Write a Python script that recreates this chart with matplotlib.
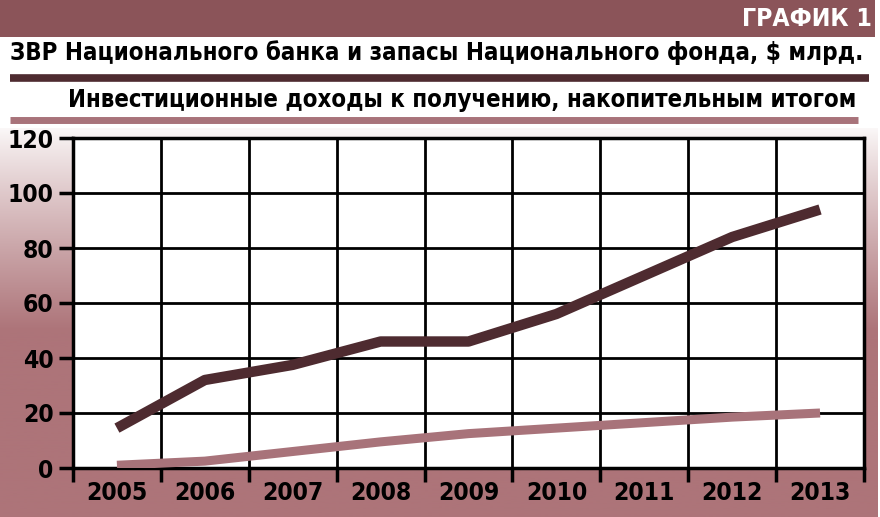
import matplotlib
matplotlib.use("Agg")
import matplotlib.pyplot as plt
import numpy as np
from matplotlib.patches import Rectangle
from matplotlib.lines import Line2D
from matplotlib import font_manager

years = ["2005", "2006", "2007", "2008", "2009", "2010", "2011", "2012", "2013"]
reserves = [14.5, 32, 37.5, 46, 46, 56, 70, 84, 94]
income = [1, 2.5, 6, 9.5, 12.5, 14.5, 16.5, 18.5, 20]
yticks = [0, 20, 40, 60, 80, 100, 120]

header = "ГРАФИК 1"
label1 = "ЗВР Национального банка и запасы Национального фонда, $ млрд."
label2 = "Инвестиционные доходы к получению, накопительным итогом"

dark = "#4e2b30"
light = "#a8737a"
band = "#8b5459"

# pick a condensed bold font if one is installed
cands = []
for fe in font_manager.fontManager.ttflist:
    nm = fe.name.lower()
    st = str(fe.stretch).lower()
    cond = ("condensed" in st) or ("narrow" in nm) or ("condensed" in nm) or ("condensed" in fe.fname.lower())
    bold = (fe.weight in ("bold", 700, "semibold", 600)) or (isinstance(fe.weight, int) and fe.weight >= 600)
    if cond and bold:
        pri = 0 if "dejavu" in nm else 1
        cands.append((pri, fe.fname))
cands.sort()
if cands:
    fp = font_manager.FontProperties(fname=cands[0][1])
else:
    fp = font_manager.FontProperties(family="DejaVu Sans", weight="bold")

W, H = 880, 517
fig = plt.figure(figsize=(W / 100, H / 100), dpi=100)
fig.patch.set_facecolor("white")

# gradient background panel
bg = fig.add_axes([0, 0, 877 / W, (H - 128) / H], zorder=0)
n = 400
t = np.linspace(0, 1, n)
f = np.clip(t / 0.52, 0, 1) ** 0.9
top_c = np.array([0xfb, 0xf8, 0xf8]) / 255
bot_c = np.array([0xad, 0x74, 0x79]) / 255
grad = top_c[None, :] * (1 - f[:, None]) + bot_c[None, :] * f[:, None]
bg.imshow(grad[:, None, :], aspect="auto", extent=[0, 1, 0, 1], origin="upper")
bg.set_axis_off()

# top band
fig.patches.append(Rectangle((0, (H - 37) / H), 875 / W, 37 / H, transform=fig.transFigure,
                             facecolor=band, edgecolor="none", zorder=1))

renderer = fig.canvas.get_renderer()


def fit_text(xp, yp, s, target_w, ha, color, size0=20, zorder=2):
    t = fig.text(xp / W, (H - yp) / H, s, color=color, fontproperties=fp, ha=ha, va="center",
                 zorder=zorder)
    t.set_fontsize(size0)
    w = t.get_window_extent(renderer).width
    t.set_fontsize(size0 * target_w / w)
    return t


fit_text(872, 19, header, 130, "right", "white")
fit_text(10, 53, label1, 852, "left", "black")
fig.lines.append(Line2D([10 / W, 869 / W], [(H - 78) / H] * 2, transform=fig.transFigure,
                        color=dark, linewidth=5.5, solid_capstyle="butt"))
fit_text(856, 100, label2, 790, "right", "black")
fig.lines.append(Line2D([10 / W, 858 / W], [(H - 120) / H] * 2, transform=fig.transFigure,
                        color=light, linewidth=5, solid_capstyle="butt"))

# tick label font size fitted to the reference label width
probe = fig.text(0, 0, "2005", fontproperties=fp)
probe.set_fontsize(20)
tsize = 20 * 62 / probe.get_window_extent(renderer).width
probe.remove()

# main axes
ax = fig.add_axes([73 / W, 49 / H, (864 - 73) / W, (468 - 138) / H], zorder=3)
ax.set_facecolor("white")
x = np.arange(len(years))
ax.plot(x, reserves, color=dark, linewidth=7.5, solid_capstyle="butt", zorder=4)
ax.plot(x, income, color=light, linewidth=6.5, solid_capstyle="butt", zorder=4)

ax.set_xlim(-0.5, len(years) - 0.5)
ax.set_ylim(0, 120)
ax.set_yticks(yticks)
ax.set_yticklabels([str(v) for v in yticks])
ax.set_xticks(x)
ax.set_xticklabels(years)
ax.set_xticks(np.arange(-0.5, len(years)), minor=True)
ax.grid(True, axis="y", which="major", color="black", linewidth=2)
ax.grid(True, axis="x", which="minor", color="black", linewidth=2)
ax.tick_params(axis="x", which="major", length=0, pad=9)
ax.tick_params(axis="x", which="minor", length=10, width=2.5, color="black")
ax.tick_params(axis="y", which="major", length=10, width=2.5, pad=4)
for lab in ax.get_xticklabels() + ax.get_yticklabels():
    lab.set_fontproperties(fp)
    lab.set_fontsize(tsize)
for s in ax.spines.values():
    s.set_linewidth(2.5)
    s.set_color("black")
ax.set_axisbelow(True)

fig.savefig("out.png", dpi=100, facecolor="white")
